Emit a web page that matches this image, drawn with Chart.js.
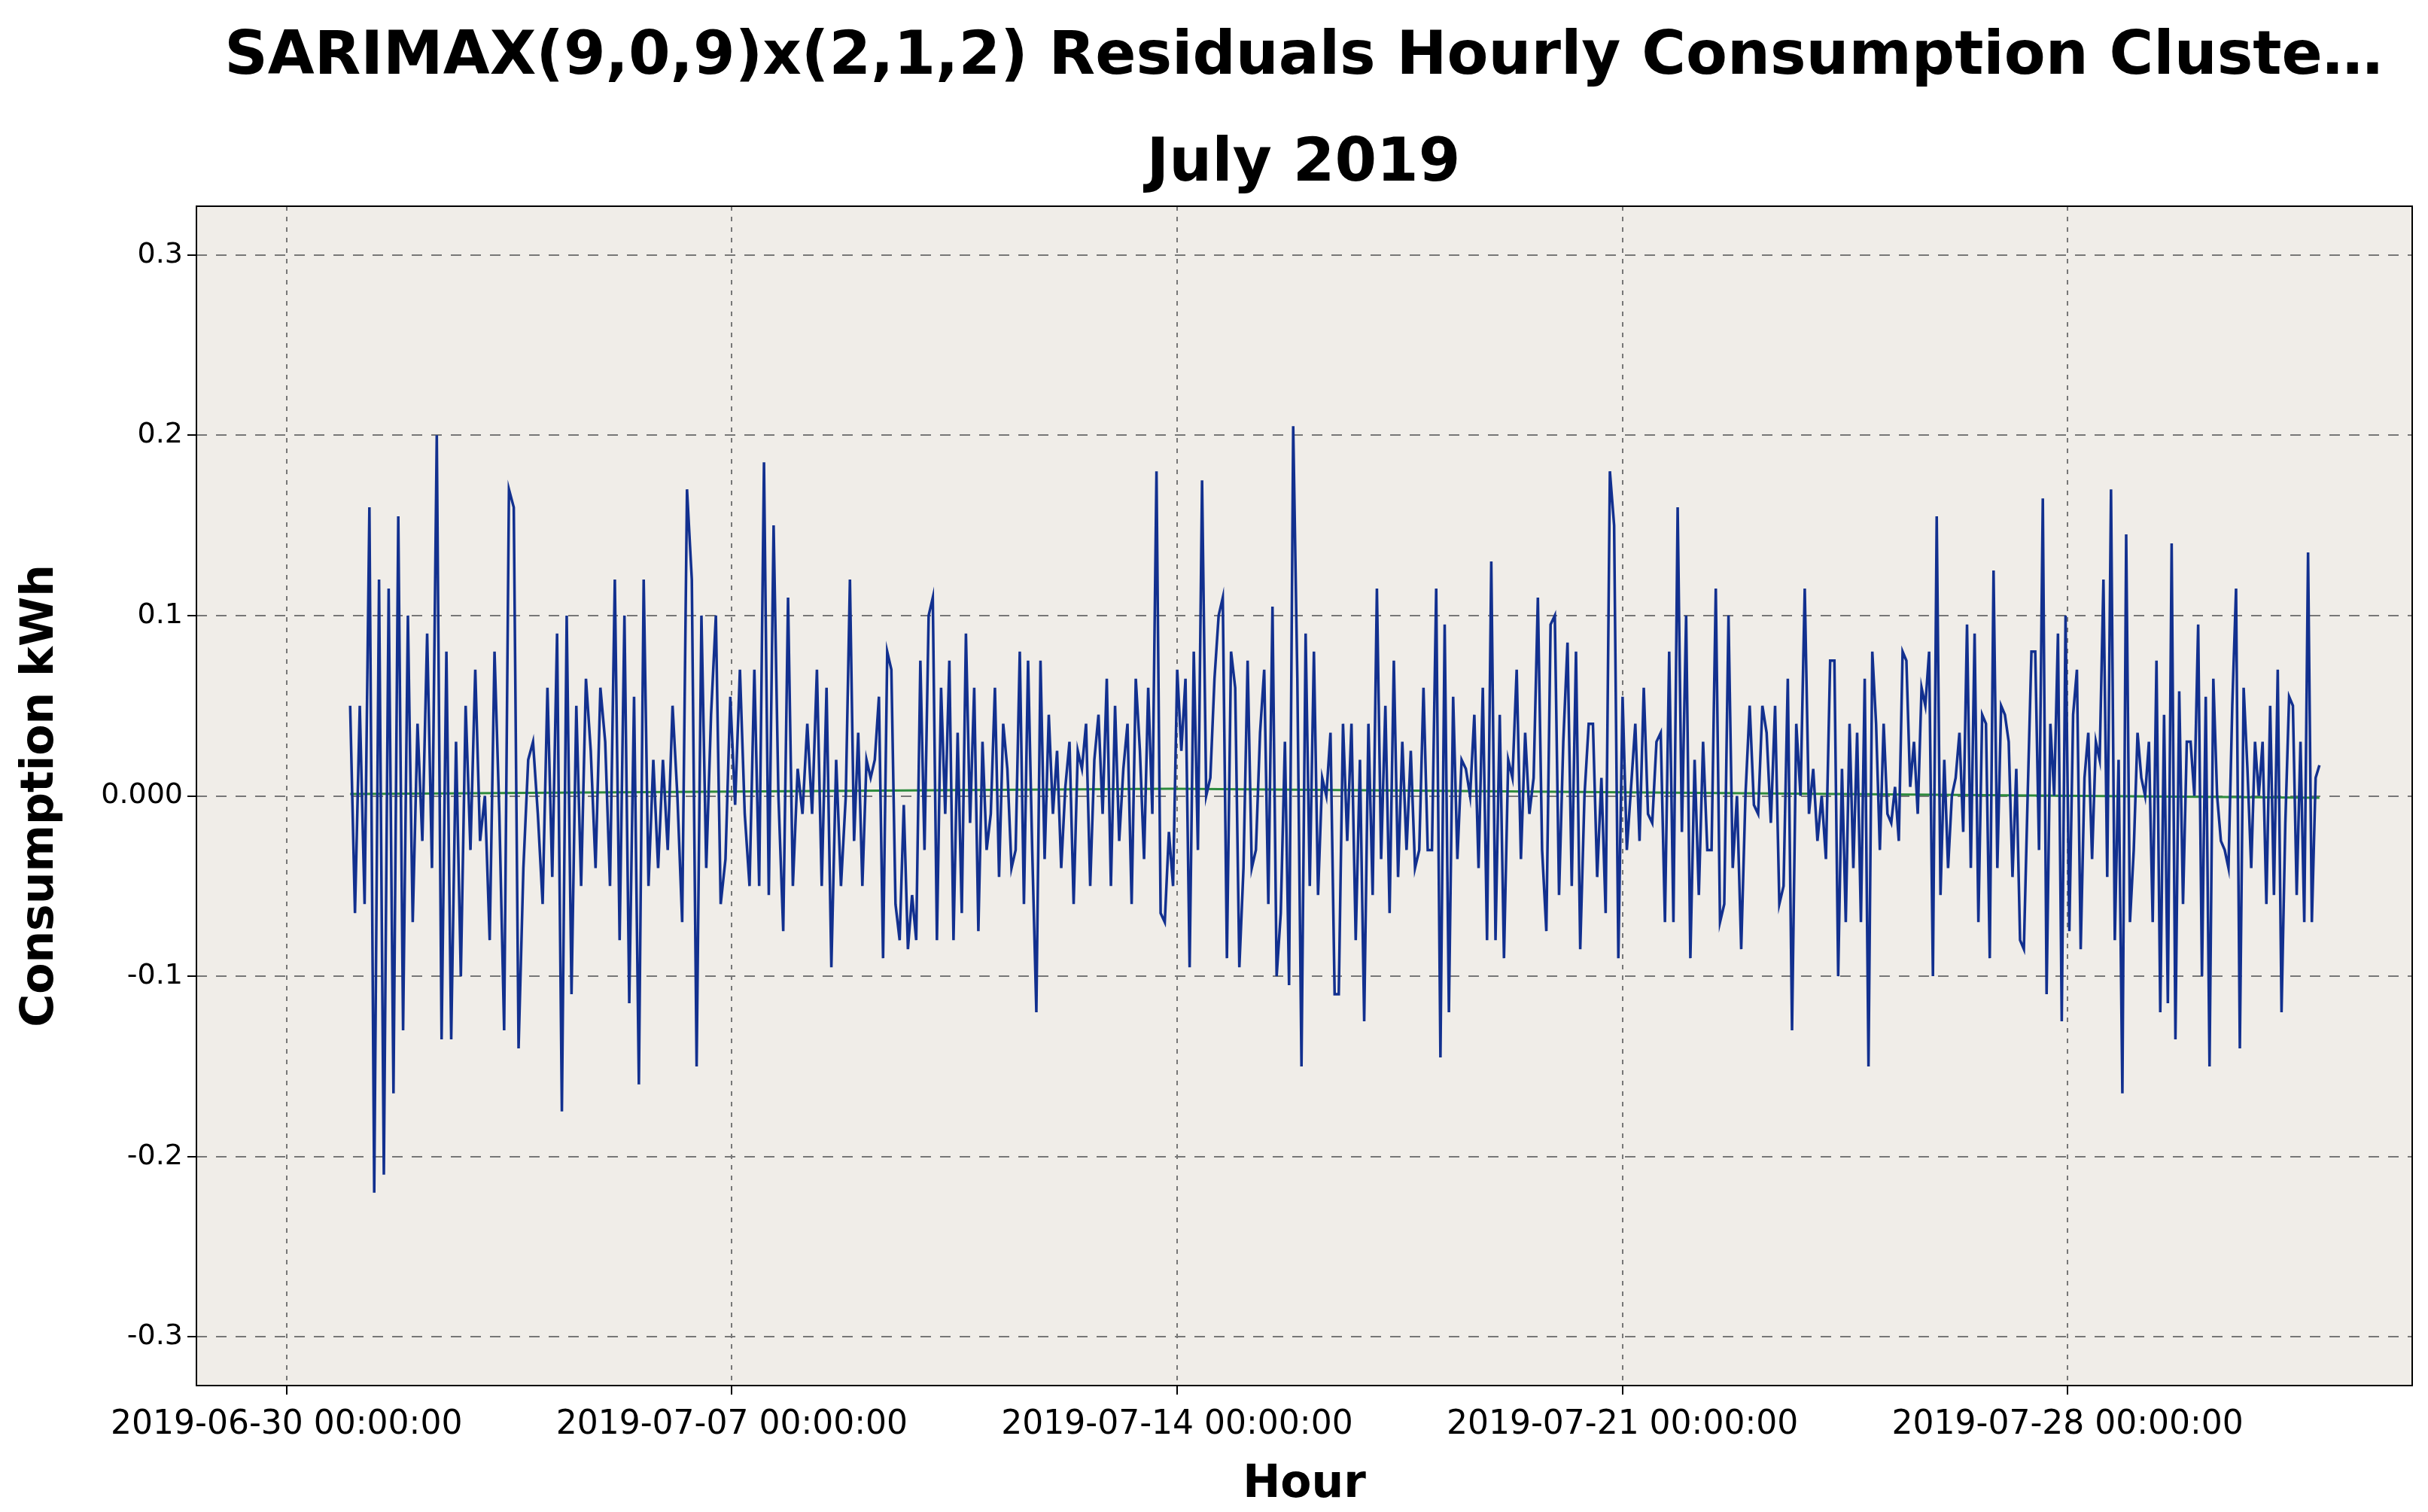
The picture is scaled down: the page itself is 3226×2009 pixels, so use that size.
<!DOCTYPE html>
<html>
<head>
<meta charset="utf-8">
<script src="https://cdn.jsdelivr.net/npm/chart.js@4"></script>
<style>
  body { margin: 0; background: #fff; }
  #wrap { position: relative; width: 3226px; height: 2009px; }
  .ttl { position: absolute; left: 0; width: 3464px; text-align: center; font: bold 80px "DejaVu Sans", sans-serif; color: #000; }
</style>
</head>
<body>
<div id="wrap">
  <div class="ttl" style="top:24px">SARIMAX(9,0,9)x(2,1,2) Residuals Hourly Consumption Cluste…</div>
  <div class="ttl" style="top:166px">July 2019</div>
  <canvas id="grafico" width="3226" height="2009"></canvas>
</div>
<script>
// residuos, quatro trechos (horas desde 2019-07-01 00:00)
const trecho1Horas = [0, 187];
const trecho1 = [0.05,-0.065,0.05,-0.06,0.16,-0.22,0.12,-0.21,0.115,-0.165,0.155,-0.13,0.10,-0.07,0.04,-0.025,0.09,-0.04,0.2,-0.135,0.08,-0.135,0.03,-0.1,0.05,-0.03,0.07,-0.025,0.0,-0.08,0.08,-0.01,-0.13,0.17,0.16,-0.14,-0.04,0.02,0.03,-0.01,-0.06,0.06,-0.045,0.09,-0.175,0.1,-0.11,0.05,-0.05,0.065,0.025,-0.04,0.06,0.03,-0.05,0.12,-0.08,0.1,-0.115,0.055,-0.16,0.12,-0.05,0.02,-0.04,0.02,-0.03,0.05,0.0,-0.07,0.17,0.12,-0.15,0.1,-0.04,0.045,0.1,-0.06,-0.035,0.055,-0.005,0.07,-0.01,-0.05,0.07,-0.05,0.185,-0.055,0.15,0.0,-0.075,0.11,-0.05,0.015,-0.01,0.04,-0.01,0.07,-0.05,0.06,-0.095,0.02,-0.05,0.12];
const trecho2Horas = [187, 373];
const trecho2 = [0.0,0.12,-0.025,0.035,-0.05,0.02,0.01,0.02,0.055,-0.09,0.08,0.07,-0.06,-0.08,-0.005,-0.085,-0.055,-0.08,0.075,-0.03,0.1,0.11,-0.08,0.06,-0.01,0.075,-0.08,0.035,-0.065,0.09,-0.015,0.06,-0.075,0.03,-0.03,-0.01,0.06,-0.045,0.04,0.015,-0.04,-0.03,0.08,-0.06,0.075,-0.03,-0.12,0.075,-0.035,0.045,-0.01,0.025,-0.04,0.005,0.03,-0.06,0.025,0.015,0.04,-0.05,0.02,0.045,-0.01,0.065,-0.05,0.05,-0.025,0.015,0.04,-0.06,0.065,0.025,-0.035,0.06,-0.01,0.18,-0.065,-0.07,-0.02,-0.05,0.07,0.025,0.065,-0.095,0.08,-0.03,0.175,0.0,0.01,0.065,0.1,0.11,-0.09,0.08,0.06,-0.095,-0.04,0.075,-0.04,-0.03,0.035,0.07,-0.06,0.105,-0.1,-0.065,0.03,-0.105,0.205,0.065,-0.15,0.09,-0.05,0.08,-0.055,0.01,0.0,0.035,-0.11,0.04];
const trecho3Horas = [373, 560];
const trecho3 = [-0.11,0.04,-0.025,0.04,-0.08,0.02,-0.125,0.04,-0.055,0.115,-0.035,0.05,-0.065,0.075,-0.045,0.03,-0.03,0.025,-0.04,-0.03,0.06,-0.03,-0.03,0.115,-0.145,0.095,-0.12,0.055,-0.035,0.02,0.015,0.0,0.045,-0.04,0.06,-0.08,0.13,-0.08,0.045,-0.09,0.02,0.01,0.07,-0.035,0.035,-0.01,0.01,0.11,-0.03,-0.075,0.095,0.1,-0.055,0.03,0.085,-0.05,0.08,-0.085,0.0,0.04,0.04,-0.045,0.01,-0.065,0.18,0.15,-0.09,0.055,-0.03,0.005,0.04,-0.025,0.06,-0.01,-0.015,0.03,0.035,-0.07,0.08,-0.07,0.16,-0.02,0.1,-0.09,0.02,-0.055,0.03,-0.03,-0.03,0.115,-0.07,-0.06,0.1,-0.04,0.0,-0.085,0.0,0.05,-0.005,-0.01,0.05,0.035,-0.015,0.05,-0.06,-0.05,0.065,-0.13,0.04,0.0,0.115,-0.01,0.015,-0.025,0.0,-0.035,0.075,-0.1];
const trecho4Horas = [560, 743];
const trecho4 = [0.075,-0.1,0.015,-0.07,0.04,-0.04,0.035,-0.07,0.065,-0.15,0.08,0.04,-0.03,0.04,-0.01,-0.015,0.005,-0.025,0.08,0.075,0.005,0.03,-0.01,0.06,0.05,0.08,-0.1,0.155,-0.055,0.02,-0.04,0.0,0.01,0.035,-0.02,0.095,-0.04,0.09,-0.07,0.045,0.04,-0.09,0.125,-0.04,0.05,0.045,0.03,-0.045,0.015,-0.08,-0.085,0.0,0.08,0.08,-0.03,0.165,-0.11,0.04,0.0,0.09,-0.125,0.1,-0.075,0.045,0.07,-0.085,0.01,0.035,-0.035,0.03,0.02,0.12,-0.045,0.17,-0.08,0.02,-0.165,0.145,-0.07,-0.03,0.035,0.01,0.0,0.03,-0.07,0.075,-0.12,0.045,-0.115,0.14,-0.135,0.058,-0.06,0.03,0.03,0.0,0.095,-0.1,0.055,-0.15,0.065,0.0,-0.025,-0.03,-0.04,0.05,0.115,-0.14,0.06,0.015,-0.04,0.03,0.0,0.03,-0.06,0.05,-0.055,0.07,-0.12,-0.015,0.055,0.05,-0.055,0.03,-0.07,0.135,-0.07,0.01,0.017];

// linha de tendencia (verde)
const tendenciaHoras = [0, 310, 743];
const tendencia = [0.001, 0.004, -0.001];

// eixos
const xTicks = [-24, 144, 312, 480, 648];
const xTickLabels = ['2019-06-30 00:00:00', '2019-07-07 00:00:00', '2019-07-14 00:00:00', '2019-07-21 00:00:00', '2019-07-28 00:00:00'];
const yTicks = [-0.3, -0.2, -0.1, 0, 0.1, 0.2, 0.3];
const yTickLabels = ['-0.3', '-0.2', '-0.1', '0.000', '0.1', '0.2', '0.3'];

function pontos(valores, faixa) {
  const passo = (faixa[1] - faixa[0]) / (valores.length - 1);
  return valores.map((v, i) => ({ x: faixa[0] + i * passo, y: v }));
}

const residuos = [].concat(
  pontos(trecho1, trecho1Horas).slice(0, -1),
  pontos(trecho2, trecho2Horas).slice(0, -1),
  pontos(trecho3, trecho3Horas).slice(0, -1),
  pontos(trecho4, trecho4Horas)
);

const fundoArea = {
  id: 'fundoArea',
  beforeDraw(chart) {
    const { ctx, chartArea: a } = chart;
    ctx.save();
    ctx.fillStyle = '#f0ede8';
    ctx.fillRect(a.left, a.top, a.right - a.left, a.bottom - a.top);
    ctx.restore();
  },
  afterDraw(chart) {
    const { ctx, chartArea: a } = chart;
    ctx.save();
    ctx.strokeStyle = '#000';
    ctx.lineWidth = 2;
    ctx.strokeRect(a.left, a.top, a.right - a.left, a.bottom - a.top);
    ctx.restore();
  }
};

const fonte = 'DejaVu Sans';
new Chart(document.getElementById('grafico').getContext('2d'), {
  type: 'line',
  data: {
    datasets: [{
      data: residuos,
      borderColor: '#12308f',
      borderWidth: 3.5,
      pointRadius: 0,
      tension: 0
    }, {
      data: tendenciaHoras.map((h, i) => ({ x: h, y: tendencia[i] })),
      borderColor: '#2e8b3e',
      borderWidth: 3,
      pointRadius: 0
    }]
  },
  options: {
    responsive: false,
    animation: false,
    layout: { padding: { top: 274, right: 21, left: 8, bottom: 0 } },
    plugins: { legend: { display: false }, tooltip: { enabled: false } },
    scales: {
      x: {
        type: 'linear',
        min: -58, max: 778,
        afterBuildTicks: s => { s.ticks = xTicks.map(v => ({ value: v })); },
        afterFit: s => { s.height = 168; },
        ticks: {
          callback: v => xTickLabels[xTicks.indexOf(v)],
          font: { family: fonte, size: 44 }, color: '#000', maxRotation: 0, padding: 14
        },
        grid: { color: '#777', lineWidth: 2, tickLength: 12, tickColor: '#000' },
        border: { display: false, dash: [6, 8] },
        title: { display: true, text: 'Hour', font: { family: fonte, size: 60, weight: 'bold' }, color: '#000', padding: 0 }
      },
      y: {
        min: -0.327, max: 0.327,
        afterBuildTicks: s => { s.ticks = yTicks.map(v => ({ value: v })); },
        afterFit: s => { s.width = 253; },
        ticks: {
          callback: v => yTickLabels[yTicks.findIndex(t => Math.abs(t - v) < 1e-9)],
          font: { family: fonte, size: 38 }, color: '#000', padding: 6
        },
        grid: { color: '#777', lineWidth: 2, tickLength: 12, tickColor: '#000' },
        border: { display: false, dash: [14, 12] },
        title: { display: true, text: 'Consumption kWh', font: { family: fonte, size: 60, weight: 'bold' }, color: '#000', padding: 10 }
      }
    }
  },
  plugins: [fundoArea]
});
</script>
</body>
</html>
